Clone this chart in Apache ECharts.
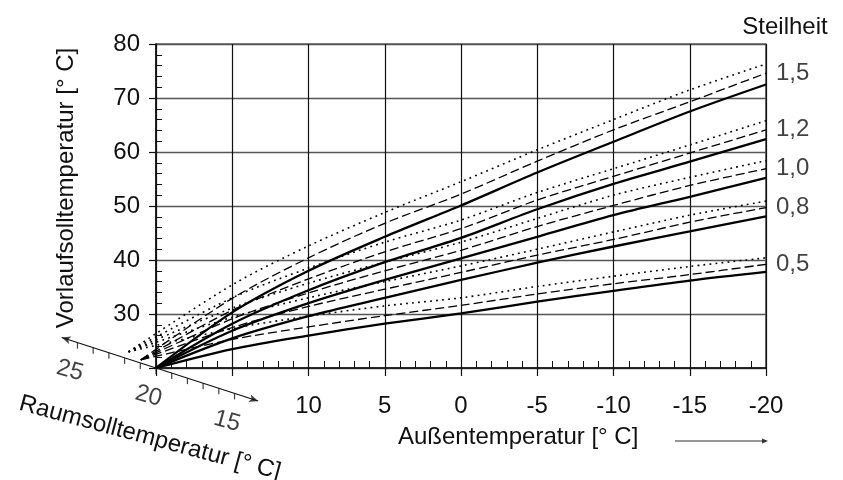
<!DOCTYPE html>
<html>
<head>
<meta charset="utf-8">
<script src="https://cdn.jsdelivr.net/npm/echarts@6/dist/echarts.min.js"></script>
<style>
  html, body { margin: 0; padding: 0; background: #fff; }
  #chart { width: 843px; height: 480px; }
</style>
</head>
<body>
<div id="chart"></div>
<script>
// Außentemperatur-Stützstellen der Heizkurven
const outdoor = [15, 10, 5, 0, -5, -10, -15, -20];
const xTickLabels = ['10', '5', '0', '-5', '-10', '-15', '-20'];
const yTickLabels = ['30', '40', '50', '60', '70', '80'];
const steilheit = ['1,5', '1,2', '1,0', '0,8', '0,5'];

// Raumsolltemperatur-Achse (schräg)
const roomTicks = [25, 24, 23, 22, 21, 20, 19, 18, 17, 16, 15];
const roomLabels = [25, 20, 15];
const roomAxisEnds = [26, 13.5];

// Startpunkte [Außen, Vorlauf] je Raumsollwert
const start20 = [20, 20];
const start21 = [21, 21.5];
const start22 = [21.8, 23];

// Vorlaufsolltemperatur – Steilheit 1,5
const s15r20 = [30.3, 38.0, 44.3, 50.1, 56.2, 61.9, 67.5, 72.5];
const s15r21 = [32.9, 40.4, 46.8, 52.2, 58.3, 64.1, 69.3, 74.6];
const s15r22 = [35.4, 42.6, 48.8, 54.5, 60.4, 66.0, 71.5, 76.3];
// Steilheit 1,2
const s12r20 = [28.2, 34.4, 39.6, 44.1, 49.4, 54.1, 58.2, 62.4];
const s12r21 = [30.7, 36.5, 41.5, 45.8, 51.1, 55.5, 59.8, 64.1];
const s12r22 = [33.0, 38.5, 43.3, 47.4, 52.5, 56.9, 61.3, 65.8];
// Steilheit 1,0
const s10r20 = [26.9, 32.0, 36.3, 40.3, 44.3, 48.3, 51.7, 55.2];
const s10r21 = [29.1, 33.9, 38.0, 41.8, 46.2, 50.1, 53.8, 56.9];
const s10r22 = [31.1, 35.7, 39.6, 43.3, 47.7, 52.0, 55.3, 58.4];
// Steilheit 0,8
const s08r20 = [25.5, 29.6, 33.0, 36.3, 39.5, 42.5, 45.3, 48.1];
const s08r21 = [27.5, 31.4, 34.6, 37.7, 40.9, 43.8, 47.0, 49.7];
const s08r22 = [29.4, 33.0, 36.0, 38.9, 42.0, 45.2, 48.3, 50.9];
// Steilheit 0,5
const s05r20 = [23.5, 26.0, 28.2, 30.1, 32.3, 34.3, 36.2, 37.8];
const s05r21 = [25.3, 27.6, 29.7, 31.6, 33.7, 35.6, 37.3, 39.2];
const s05r22 = [27.3, 29.6, 31.5, 33.0, 35.1, 37.0, 38.8, 40.4];

const groups = [
  [s15r20, s15r21, s15r22],
  [s12r20, s12r21, s12r22],
  [s10r20, s10r21, s10r22],
  [s08r20, s08r21, s08r22],
  [s05r20, s05r21, s05r22]
];

const FONT = '"Liberation Sans", Arial, sans-serif';
const INK = '#111';
const FS = 24;
const W = 843, H = 480;

// Hauptraster und ein zweites, gleich skaliertes Raster mit größerem
// Wertebereich, damit die Kurven links über die Achse hinaus laufen können
const G = { left: 156, right: 77, top: 44, bottom: 112 };
const X = [-20, 20], Y = [20, 80];
const X2MAX = 28, Y2MIN = 10;
const pxX = (W - G.left - G.right) / (X[1] - X[0]);
const pxY = (H - G.top - G.bottom) / (Y[1] - Y[0]);
const G2 = {
  left: G.left - (X2MAX - X[1]) * pxX,
  right: G.right,
  top: G.top,
  bottom: G.bottom - (Y[0] - Y2MIN) * pxY
};

// Raumsoll r -> Punkt im Außen/Vorlauf-Koordinatensystem
const ROOM_STEP = [1.03, 0.94];
function roomPt(r) {
  return [20 + (r - 20) * ROOM_STEP[0], 20 + (r - 20) * ROOM_STEP[1]];
}

function curve(start, vals) {
  return [start].concat(outdoor.map((x, i) => [x, vals[i]]));
}

const lineStyles = [
  { width: 2.3, type: 'solid' },
  { width: 1.3, type: [9, 4] },
  { width: 1.6, type: [1.8, 4.2] }
];
const starts = [start20, start21, start22];
const last = outdoor.length - 1;
const onG2 = { xAxisIndex: 1, yAxisIndex: 1, clip: false, silent: true };

const chart = echarts.init(document.getElementById('chart'));

const series = [];
groups.forEach((g) => {
  g.forEach((vals, j) => {
    series.push(Object.assign({
      type: 'line',
      data: curve(starts[j], vals),
      smooth: 0.3,
      symbol: 'none',
      z: 5,
      lineStyle: Object.assign({ color: '#000', cap: 'butt' }, lineStyles[j])
    }, onG2));
  });
});

// Beschriftung Steilheit am Ende der gestrichelten Kurven
series.push(Object.assign({
  type: 'scatter',
  data: groups.map((g, k) => ({ value: [outdoor[last], g[1][last]], name: steilheit[k] })),
  symbolSize: 0,
  label: {
    show: true, position: 'right', distance: 10,
    formatter: p => p.name,
    color: INK, fontFamily: FONT, fontSize: FS
  }
}, onG2));

// schräge Achse
series.push(Object.assign({
  type: 'line',
  data: roomAxisEnds.map(roomPt),
  symbol: 'none',
  z: 6,
  lineStyle: { color: INK, width: 1.2 }
}, onG2));
series.push(Object.assign({
  type: 'scatter',
  data: roomTicks.map(roomPt),
  symbol: 'rect',
  symbolSize: [1.2, 6],
  symbolOffset: [0, 3],
  itemStyle: { color: INK }
}, onG2));
series.push(Object.assign({
  type: 'scatter',
  data: roomLabels.map(r => ({ value: roomPt(r), name: String(r) })),
  symbolSize: 0,
  label: {
    show: true,
    formatter: p => p.name,
    offset: [0, 29],
    rotate: -15,
    color: INK,
    fontFamily: FONT,
    fontSize: FS
  }
}, onG2));
series.push(Object.assign({
  id: 'arrows',
  type: 'scatter',
  data: roomAxisEnds.map(roomPt),
  symbol: 'arrow',
  symbolSize: [6, 9],
  z: 6,
  itemStyle: { color: INK }
}, onG2));

const hiddenAxis = {
  show: false, type: 'value',
  axisLine: { show: false }, axisTick: { show: false },
  axisLabel: { show: false }, splitLine: { show: false }
};

chart.setOption({
  animation: false,
  grid: [
    Object.assign({
      show: true, borderColor: INK, borderWidth: 1.2,
      containLabel: false, outerBoundsMode: 'none'
    }, G),
    Object.assign({ containLabel: false, outerBoundsMode: 'none' }, G2)
  ],
  xAxis: [{
    gridIndex: 0,
    type: 'value', inverse: true, min: X[0], max: X[1], interval: 5,
    axisLine: { show: true, onZero: false, lineStyle: { color: INK, width: 1.5 } },
    axisTick: { show: true, length: 8, lineStyle: { color: INK, width: 1.2 } },
    minorTick: { show: true, splitNumber: 5, length: -7, lineStyle: { color: INK, width: 1 } },
    splitLine: { show: true, lineStyle: { color: INK, width: 1.2 } },
    axisLabel: {
      margin: 26, color: INK, fontFamily: FONT, fontSize: FS,
      formatter: v => xTickLabels.includes(String(v)) ? String(v) : ''
    }
  }, Object.assign({ gridIndex: 1, inverse: true, min: X[0], max: X2MAX }, hiddenAxis)],
  yAxis: [{
    gridIndex: 0,
    type: 'value', min: Y[0], max: Y[1], interval: 10,
    axisLine: { show: true, onZero: false, lineStyle: { color: INK, width: 1.5 } },
    axisTick: { show: true, length: 7, lineStyle: { color: INK, width: 1.2 } },
    minorTick: { show: true, splitNumber: 5, length: -6, lineStyle: { color: INK, width: 1 } },
    splitLine: { show: true, lineStyle: { color: '#555', width: 1.4 } },
    axisLabel: {
      margin: 16, color: INK, fontFamily: FONT, fontSize: FS,
      formatter: v => yTickLabels.includes(String(v)) ? String(v) : ''
    }
  }, Object.assign({ gridIndex: 1, min: Y2MIN, max: Y[1] }, hiddenAxis)],
  graphic: [
    {
      type: 'text', x: 785, y: 27,
      style: { text: 'Steilheit', fill: INK, font: FS + 'px ' + FONT, align: 'center', verticalAlign: 'middle' }
    },
    {
      type: 'text', x: 66, y: 188, rotation: Math.PI / 2,
      style: { text: 'Vorlaufsolltemperatur [° C]', fill: INK, font: FS + 'px ' + FONT, align: 'center', verticalAlign: 'middle' }
    },
    {
      type: 'text', x: 398, y: 437,
      style: { text: 'Außentemperatur [° C]', fill: INK, font: FS + 'px ' + FONT, align: 'left', verticalAlign: 'middle' }
    },
    {
      type: 'line', shape: { x1: 675, y1: 441, x2: 766, y2: 441 },
      style: { stroke: '#333', lineWidth: 1.2 }
    },
    {
      type: 'polygon', shape: { points: [[768, 441], [762, 438.5], [762, 443.5]] },
      style: { fill: '#333' }
    },
    {
      type: 'text', x: 150, y: 438, rotation: -15 * Math.PI / 180,
      style: { text: 'Raumsolltemperatur [° C]', fill: INK, font: FS + 'px ' + FONT, align: 'center', verticalAlign: 'middle' }
    }
  ],
  series: series
});

// Pfeilspitzen der schrägen Achse in Achsrichtung drehen
const p0 = chart.convertToPixel({ gridIndex: 1 }, roomPt(roomAxisEnds[0]));
const p1 = chart.convertToPixel({ gridIndex: 1 }, roomPt(roomAxisEnds[1]));
const ang = Math.atan2(-(p0[1] - p1[1]), p0[0] - p1[0]) * 180 / Math.PI;
chart.setOption({
  series: [{
    id: 'arrows',
    data: [
      { value: roomPt(roomAxisEnds[0]), symbolRotate: ang - 90 },
      { value: roomPt(roomAxisEnds[1]), symbolRotate: ang + 90 }
    ]
  }]
});
</script>
</body>
</html>
